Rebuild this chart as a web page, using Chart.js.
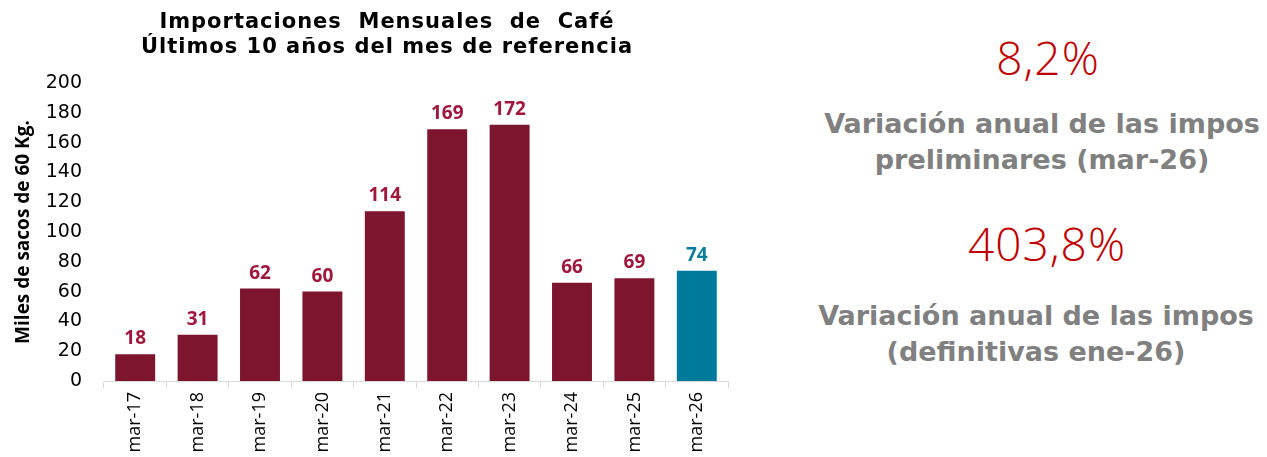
<!DOCTYPE html>
<html><head><meta charset="utf-8">
<script src="https://cdn.jsdelivr.net/npm/chart.js@4.4.1/dist/chart.umd.min.js"></script>
<style>
html,body{margin:0;padding:0;background:#fff;}
#wrap{position:relative;width:1267px;height:457px;overflow:hidden;}
#chartBox{position:absolute;left:0;top:0;width:760px;height:457px;}
#title{position:absolute;left:87px;width:600px;top:9px;text-align:center;color:#000;font-family:"DejaVu Sans",sans-serif;font-weight:700;font-size:21px;line-height:25px;letter-spacing:1px;white-space:pre;}
.big{position:absolute;width:460px;text-align:center;color:#c00000;font-family:"Open Sans",sans-serif;font-weight:300;font-size:46px;line-height:46px;letter-spacing:1px;}
.gray{position:absolute;width:520px;text-align:center;color:#808080;font-family:"DejaVu Sans",sans-serif;font-weight:700;font-size:27px;line-height:36px;}
</style></head>
<body><div id="wrap">
<div id="chartBox"><canvas id="c"></canvas></div>
<div id="title"></div>
<div class="big" style="left:818px;top:34px">8,2%</div>
<div class="gray" style="left:782px;top:106px">Variación anual de las impos<br>preliminares (mar-26)</div>
<div class="big" style="left:817px;top:220px">403,8%</div>
<div class="gray" style="left:776px;top:298px">Variación anual de las impos<br>(definitivas ene-26)</div>
</div>
<script>
const categories = ["mar-17","mar-18","mar-19","mar-20","mar-21","mar-22","mar-23","mar-24","mar-25","mar-26"];
const values = [18,31,62,60,114,169,172,66,69,74];
const yTicks = [0,20,40,60,80,100,120,140,160,180,200];
const titleLines = ["Importaciones  Mensuales  de  Café","Últimos 10 años del mes de referencia"];
const yTitle = "Miles de sacos de 60 Kg.";

document.getElementById('title').textContent = titleLines.join("\n");

const barColors = values.map((v,i)=> i===values.length-1 ? "#007a9b" : "#7e152e");
const labelColors = values.map((v,i)=> i===values.length-1 ? "#0b7c9c" : "#a0173d");

const labelPlugin = {
  id:'barLabels',
  afterDatasetsDraw(chart){
    const ctx = chart.ctx;
    const meta = chart.getDatasetMeta(0);
    ctx.save();
    ctx.font = "700 19px 'Open Sans', sans-serif";
    ctx.textAlign = "center";
    ctx.textBaseline = "alphabetic";
    meta.data.forEach((bar,i)=>{
      ctx.fillStyle = labelColors[i];
      ctx.fillText(String(values[i]), bar.x, bar.y - 10);
    });
    ctx.restore();
  }
};

new Chart(document.getElementById('c'), {
  type:'bar',
  data:{labels:categories, datasets:[{data:values, backgroundColor:barColors, barPercentage:0.64, categoryPercentage:1.0}]},
  options:{
    responsive:true, maintainAspectRatio:false, animation:false,
    layout:{padding:{left:12,right:32,top:83,bottom:0}},
    plugins:{legend:{display:false}, tooltip:{enabled:false}, title:{display:false}},
    scales:{
      y:{min:0,max:200,
        afterBuildTicks(s){ s.ticks = yTicks.map(v=>({value:v})); },
        afterFit(s){ s.width = 92; },
        grid:{display:false}, border:{display:false},
        ticks:{color:"#000", font:{family:"'DejaVu Sans', sans-serif", size:19, weight:'400'}, padding:14},
        title:{display:true, text:yTitle, color:"#000", font:{family:"'Open Sans', sans-serif", size:19, weight:'700'}, padding:{top:0,bottom:0}}
      },
      x:{
        afterFit(s){ s.height = 76; },
        grid:{display:true, drawOnChartArea:false, color:"#d9d9d9", tickLength:7, offset:true},
        border:{display:true, color:"#d9d9d9"},
        ticks:{color:"#000", minRotation:90, maxRotation:90, font:{family:"'Open Sans', sans-serif", size:18, weight:'400'}, padding:4}
      }
    }
  },
  plugins:[labelPlugin]
});
</script>
</body></html>
